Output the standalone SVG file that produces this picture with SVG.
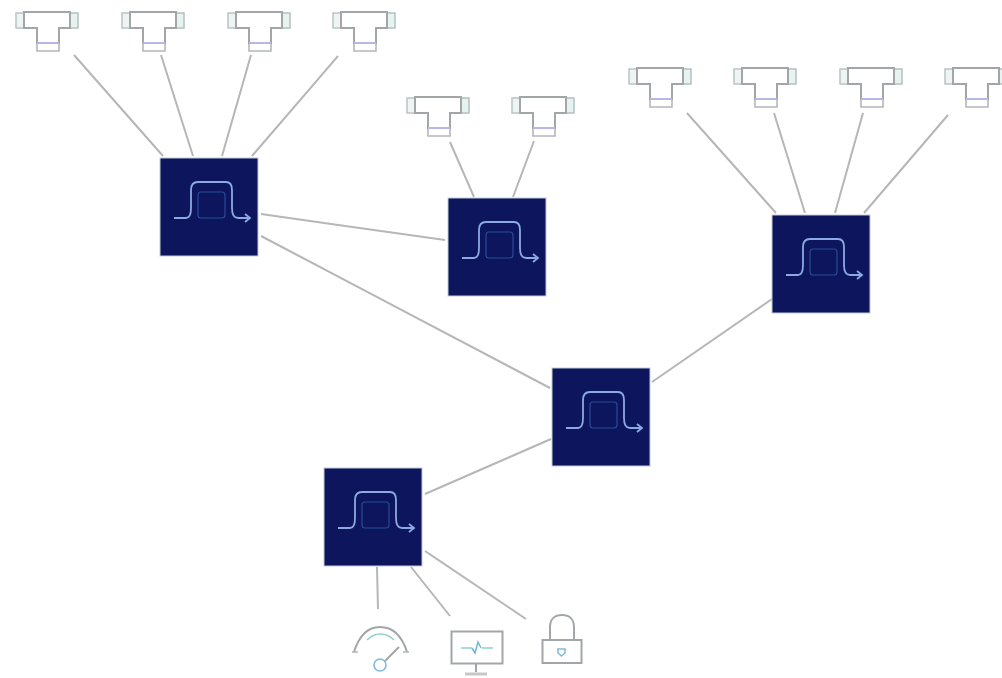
<svg xmlns="http://www.w3.org/2000/svg" width="1002" height="678" viewBox="0 0 1002 678">
<style>
.link{fill:none;stroke:#b4b6b8;stroke-width:2}
.sq{fill:#07195c;stroke:#c3c9d6;stroke-width:1}
.cv{fill:none;stroke:#8ea8e4;stroke-width:1.8}
.fa{fill:none;stroke:#2a4a96;stroke-width:1.2}
.ln{fill:none;stroke:#a3a6a8;stroke-width:2}
.lg{fill:none;stroke:#b4b8b8;stroke-width:1.6}
.tl{fill:none;stroke:#8fd0d2;stroke-width:1.5}
.bl{fill:none;stroke:#7fbbe0;stroke-width:1.6}
</style>
<defs>
<filter id="soft" x="-2%" y="-2%" width="104%" height="104%"><feGaussianBlur stdDeviation="0.7"/></filter>
<g id="tee">
<rect x="-1" y="1" width="8" height="15" fill="#eef3f3" stroke="#bcc4c4" stroke-width="1.500"/>
<rect x="53" y="1" width="8" height="15" fill="#e6f3f1" stroke="#b4c0c0" stroke-width="1.500"/>
<path class="ln" fill="none" d="M7 0H53V16H42V31H20V16H7Z"/>
<path d="M20 31H42" fill="none" stroke="#b5b8e8" stroke-width="2"/>
<path class="lg" d="M20 32V39H42V32"/>
</g>
<g id="sw">
<rect class="sq" width="98" height="98"/>
<rect class="fa" x="38" y="34" width="27" height="26" rx="3"/>
<path class="cv" d="M14 60H26C30 60 31 56 31 50V32C31 27 33 24 38 24H66C70 24 72 27 72 32V50C72 56 73 60 78 60H89"/>
<path class="cv" d="M85 56L90 60L85 64"/>
</g>
</defs>
<g filter="url(#soft)">
<g id="connectors">
<path class="link" d="M74 55L163 156M161 55L193 156M251 55L222 156M338 56L252 156"/>
<path class="link" d="M450 142L474 197M534 141L513 197"/>
<path class="link" d="M687 113L776 213M774 113L805 213M863 113L835 213M948 115L864 213"/>
<path class="link" d="M261 214L445 240M261 236L550 388M652 382L772 299M425 494L551 439"/>
<path class="link" d="M377 567L378 609M411 567L450 616M425 551L526 619"/>
</g>
<g id="tee1"><use href="#tee" x="17" y="12"/></g>
<g id="tee2"><use href="#tee" x="123" y="12"/></g>
<g id="tee3"><use href="#tee" x="229" y="12"/></g>
<g id="tee4"><use href="#tee" x="334" y="12"/></g>
<g id="tee5"><use href="#tee" x="408" y="97"/></g>
<g id="tee6"><use href="#tee" x="513" y="97"/></g>
<g id="tee7"><use href="#tee" x="630" y="68"/></g>
<g id="tee8"><use href="#tee" x="735" y="68"/></g>
<g id="tee9"><use href="#tee" x="841" y="68"/></g>
<g id="tee10"><use href="#tee" x="946" y="68"/></g>
<g id="switch1"><use href="#sw" x="160" y="158"/></g>
<g id="switch2"><use href="#sw" x="448" y="198"/></g>
<g id="switch3"><use href="#sw" x="772" y="215"/></g>
<g id="switch4"><use href="#sw" x="552" y="368"/></g>
<g id="switch5"><use href="#sw" x="324" y="468"/></g>
<g id="gauge">
<path class="ln" d="M354 652C359 636 368 627 380 627C393 627 402 636 407 652"/>
<path class="lg" d="M352 652H358M403 652H409"/>
<path class="tl" d="M367 640C375 632 386 632 394 640"/>
<circle class="bl" cx="380" cy="665" r="6"/>
<path class="ln" d="M385 661L399 647"/>
</g>
<g id="monitor">
<rect class="ln" x="451.500" y="631.500" width="51" height="32"/>
<path class="tl" d="M461 648H472M482 648H493"/>
<path d="M472 648L475 653L478 642L481 648" fill="none" stroke="#6fb4d6" stroke-width="1.500"/>
<path class="ln" d="M476 664V672"/>
<path d="M465 674H487" fill="none" stroke="#c6c8c9" stroke-width="3"/>
</g>
<g id="lock">
<rect class="ln" x="542.500" y="640" width="39" height="23"/>
<path class="ln" d="M550 640V627C550 619 555 615 562 615C569 615 574 619 574 627V640"/>
<path class="bl" d="M558 649H565V653L561.500 656L558 653Z"/>
</g>
</g>
</svg>
